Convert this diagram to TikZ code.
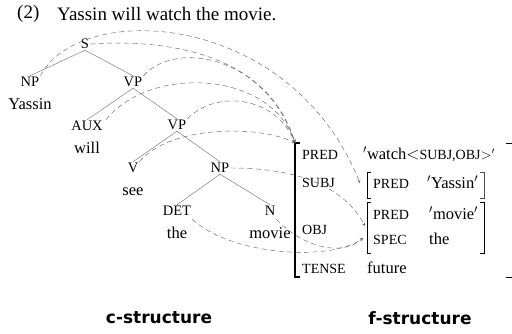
\documentclass[tikz,border=0pt]{standalone}
\usepackage{fontspec}
\setmainfont{Liberation Serif}
\newfontfamily\headfont{DejaVu Sans}
\usepackage{tikz}
\usetikzlibrary{arrows,positioning}

\begin{document}
\begin{tikzpicture}[
    x=1pt, y=-1pt,
    font=\fontsize{16.5}{19}\selectfont,
    cat/.style={inner sep=1pt, text height=10pt, text depth=0pt, font=\fontsize{14.5}{16}\selectfont},
    word/.style={inner sep=1pt, text height=11.5pt, text depth=0pt},
    feat/.style={inner sep=0pt, anchor=base west, font=\fontsize{14}{16}\selectfont},
    val/.style={inner sep=0pt, anchor=base west},
    branch/.style={draw=gray, line width=0.5pt},
    bracket/.style={draw=black, line width=0.8pt},
    link/.style={->, >=stealth, dashed, dash pattern=on 5pt off 3.5pt, draw=gray!80!black, line width=0.45pt},
    title/.style={font=\headfont\bfseries\fontsize{17}{20}\selectfont}
]
    \useasboundingbox (0,0) rectangle (512,334);

    % example sentence
    \node[anchor=west, inner sep=0pt] (num) at (17,14) {\fontsize{19}{22}\selectfont (2)};
    \node[anchor=west, inner sep=0pt] (sent) at (57,14) {\fontsize{19}{22}\selectfont Yassin will watch the movie.};

    % c-structure tree
    \node[cat] (s) at (85,44) {S};
    \node[cat] (np1) at (30,82) {NP};
    \node[word, below=8.5pt of np1] (yassin) {Yassin};
    \node[cat] (vp1) at (133,82) {VP};
    \node[cat] (aux) at (87,126) {AUX};
    \node[word, below=8.5pt of aux] (will) {will};
    \node[cat] (vp2) at (177,125) {VP};
    \node[cat] (v) at (133,168) {V};
    \node[word, below=8.5pt of v] (see) {see};
    \node[cat] (np2) at (220,168) {NP};
    \node[cat] (det) at (177,211) {DET};
    \node[word, below=8.5pt of det] (the) {the};
    \node[cat] (n) at (270,211) {N};
    \node[word, below=8.5pt of n] (movie) {movie};

    \draw[branch] (s.south) -- (np1.north);
    \draw[branch] (s.south) -- (vp1.north);
    \draw[branch] (vp1.south) -- (aux.north);
    \draw[branch] (vp1.south) -- (vp2.north);
    \draw[branch] (vp2.south) -- (v.north);
    \draw[branch] (vp2.south) -- (np2.north);
    \draw[branch] (np2.south) -- (det.north);
    \draw[branch] (np2.south) -- (n.north);

    % f-structure
    \coordinate (ftop) at (295,143);
    \coordinate (fbot) at (295,277);
    \coordinate (frtop) at (512.4,143);
    \coordinate (frbot) at (512.4,277);
    \draw[bracket, line width=1.1pt] ([xshift=5pt]ftop) -- (ftop) -- (fbot) -- ([xshift=5pt]fbot);
    \draw[bracket] ([xshift=-6pt]frtop) -- (frtop) -- (frbot) -- ([xshift=-6pt]frbot);

    \node[feat] (pred) at (302,160) {PRED};
    \node[val] (watch) at (363,160) {$'$watch$<$\fontsize{14}{16}\selectfont SUBJ,OBJ$>'$};
    \node[feat] (subj) at (302,188) {SUBJ};
    \node[feat] (obj) at (302,235) {OBJ};
    \node[feat] (tense) at (302,273) {TENSE};
    \node[val] (future) at (367,273) {future};

    % SUBJ value
    \coordinate (stop) at (367,172);
    \coordinate (sbot) at (367,198);
    \coordinate (srtop) at (484,172);
    \coordinate (srbot) at (484,198);
    \draw[bracket] ([xshift=4pt]stop) -- (stop) -- (sbot) -- ([xshift=4pt]sbot);
    \draw[bracket, draw=gray!60!black] ([xshift=-4pt]srtop) -- (srtop) -- (srbot) -- ([xshift=-4pt]srbot);
    \node[feat] (spred) at (373,189) {PRED};
    \node[val] (sval) at (427,189) {$'$Yassin$'$};

    % OBJ value
    \coordinate (otop) at (367,202);
    \coordinate (obot) at (367,253);
    \coordinate (ortop) at (484,202);
    \coordinate (orbot) at (484,253);
    \draw[bracket] ([xshift=4pt]otop) -- (otop) -- (obot) -- ([xshift=4pt]obot);
    \draw[bracket] ([xshift=-4pt]ortop) -- (ortop) -- (orbot) -- ([xshift=-4pt]orbot);
    \node[feat] (opred) at (373,220) {PRED};
    \node[val] (oval) at (429,220) {$'$movie$'$};
    \node[feat] (ospec) at (373,245) {SPEC};
    \node[val] (the2) at (429,245) {the};

    % targets of the mapping
    \coordinate (ssubj) at (360,183);
    \coordinate (oin1) at (365,226);
    \coordinate (oin2) at (363,238);

    % projection links
    \draw[link] (np1.north east) .. controls (80,0) and (290,10) .. (ssubj);
    \draw[link] (s.east) .. controls (180,38) and (270,60) .. (ftop);
    \draw[link] (vp1.north east) .. controls (175,40) and (265,55) .. (ftop);
    \draw[link] ([xshift=2pt]aux.north east) .. controls (150,65) and (270,70) .. (ftop);
    \draw[link] (vp2.north east) .. controls (215,90) and (275,95) .. (ftop);
    \draw[link] (v.north east) .. controls (170,125) and (260,125) .. (ftop);
    \draw[link] (np2.east) .. controls (285,168) and (340,180) .. (oin1);
    \draw[link] ([yshift=-2pt]det.south east) .. controls (230,255) and (330,262) .. (oin2);
    \draw[link] ([yshift=-2pt]n.south east) .. controls (300,245) and (340,258) .. (oin2);

    % captions
    \node[title] (cstr) at (159,318) {c-structure};
    \node[title] (fstr) at (420,318) {f-structure};

\end{tikzpicture}
\end{document}
